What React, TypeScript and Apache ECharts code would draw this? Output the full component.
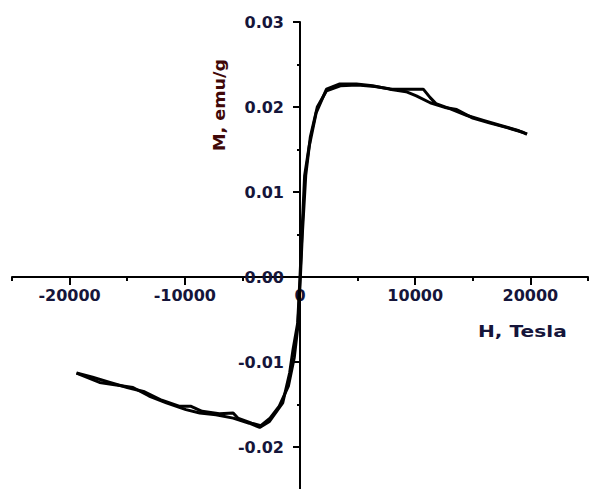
import React, { useEffect, useRef } from "react";
import * as echarts from "echarts";

// Field H (x) and magnetisation M (y), increasing-field sweep
const upH = [-19400, -17400, -14500, -13100, -11600, -9900, -8700, -7300, -5800, -4400, -3500, -2650, -1500, -900, -600, -200, 0, 200, 400, 800, 1400, 2300, 3400, 4900, 6300, 7800, 9200, 10100, 11300, 12700, 13600, 15000, 16500, 17900, 19400, 19700];
const upM = [-0.0113, -0.0124, -0.013, -0.014, -0.0148, -0.0156, -0.016, -0.0162, -0.0166, -0.0172, -0.0177, -0.017, -0.0148, -0.0113, -0.0085, -0.0054, 0.0, 0.006, 0.0119, 0.0154, 0.0193, 0.0221, 0.0227, 0.0227, 0.0225, 0.0221, 0.0218, 0.0213, 0.0205, 0.0199, 0.0197, 0.0187, 0.0181, 0.0176, 0.017, 0.0168];

// Decreasing-field sweep
const downH = [19700, 19000, 17500, 16000, 14500, 13000, 11800, 11300, 10700, 9500, 8000, 6500, 5000, 3500, 2300, 1500, 900, 500, 200, 0, -200, -500, -1000, -1800, -2600, -3400, -4200, -5400, -5800, -7000, -8500, -9500, -10500, -12000, -13500, -15000, -16500, -18000, -19400];
const downM = [0.0168, 0.0172, 0.0178, 0.0184, 0.019, 0.0198, 0.0204, 0.0211, 0.0221, 0.0221, 0.0221, 0.0224, 0.0226, 0.0225, 0.0219, 0.02, 0.0165, 0.012, 0.005, -0.001, -0.006, -0.0095, -0.0128, -0.0152, -0.0166, -0.0175, -0.0172, -0.0166, -0.016, -0.0161, -0.0158, -0.0152, -0.0152, -0.0145, -0.0135, -0.013, -0.0124, -0.0118, -0.0113];

const xLabelValues = [-20000, -10000, 0, 10000, 20000];
const xTitle = "H, Tesla";
const yTitle = "M, emu/g";

const FONT = "DejaVu Sans";

export default function App() {
  const ref = useRef<HTMLDivElement>(null);
  useEffect(() => {
    if (!ref.current) return;
    const chart = echarts.init(ref.current, undefined, { renderer: "svg" });
    const zip = (xs: number[], ys: number[]) => xs.map((x, i) => [x, ys[i]]);
    const labelStyle = {
      color: "#15153a",
      fontFamily: FONT,
      fontWeight: "bold" as const,
      fontSize: 16,
    };
    const gLeft = 12, gTop = 22, gW = 576, gH = 510;
    chart.setOption({
      animation: false,
      backgroundColor: "#ffffff",
      grid: { left: gLeft, top: gTop, width: gW, height: gH, containLabel: false, outerBoundsMode: "none" },
      xAxis: {
        type: "value",
        position: "bottom",
        offset: -(gH / 2),
        min: -25000,
        max: 25000,
        interval: 10000,
        axisLine: { onZero: false, lineStyle: { color: "#000", width: 2 } },
        axisTick: { show: true, inside: false, length: 4, lineStyle: { color: "#000", width: 2 } },
        minorTick: { show: true, splitNumber: 2, length: 8, lineStyle: { color: "#000", width: 2 } },
        axisLabel: { ...labelStyle, margin: 10, customValues: xLabelValues, formatter: (v: number) => String(v) },
        splitLine: { show: false },
        minorSplitLine: { show: false },
      },
      yAxis: {
        type: "value",
        position: "left",
        offset: -(gW / 2),
        min: -0.03,
        max: 0.03,
        interval: 0.01,
        axisLine: { onZero: false, lineStyle: { color: "#000", width: 2 } },
        axisTick: { show: true, inside: false, length: 7, lineStyle: { color: "#000", width: 2 } },
        minorTick: { show: true, splitNumber: 2, length: 3, lineStyle: { color: "#000", width: 2 } },
        axisLabel: {
          ...labelStyle,
          margin: 16,
          formatter: (v: number) => (v < -0.025 ? "" : Math.abs(v) < 1e-9 ? "0.00" : v.toFixed(2)),
        },
        splitLine: { show: false },
        minorSplitLine: { show: false },
      },
      graphic: [
        {
          type: "text",
          x: 478,
          y: 323,
          scaleX: 1.26,
          style: { text: xTitle, fill: "#15153a", font: `bold 16px "${FONT}"` },
        },
        {
          type: "text",
          x: 211,
          y: 151,
          rotation: Math.PI / 2,
          scaleX: 1.1,
          style: { text: yTitle, fill: "#400808", font: `bold 16px "${FONT}"` },
        },
      ],
      series: [
        {
          type: "line",
          data: zip(upH, upM),
          showSymbol: false,
          lineStyle: { color: "#000", width: 3 },
          clip: false,
        },
        {
          type: "line",
          data: zip(downH, downM),
          showSymbol: false,
          lineStyle: { color: "#000", width: 3 },
          clip: false,
        },
      ],
    });
    return () => chart.dispose();
  }, []);
  return (
    <div
      ref={ref}
      style={{ position: "absolute", left: 0, top: 0, width: 591, height: 489, background: "#fff" }}
    />
  );
}
